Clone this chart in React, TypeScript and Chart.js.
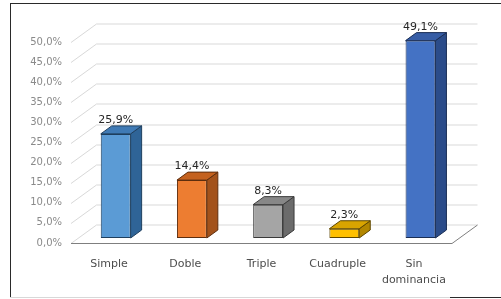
import React, { useEffect, useRef } from "react";
import { Chart, registerables } from "chart.js";

Chart.register(...registerables);

const categories: (string | string[])[] = ["Simple", "Doble", "Triple", "Cuadruple", ["Sin", "dominancia"]];
const values = [25.9, 14.4, 8.3, 2.3, 49.1];
const frontColors = ["#5B9BD5", "#ED7D31", "#A5A5A5", "#FFC000", "#4472C4"];
const sideColors = ["#2F6497", "#A3521B", "#6B6B6B", "#B38700", "#2B4C8A"];
const topColors = ["#3F7AB5", "#C4611E", "#878787", "#D9A400", "#365DA6"];
const edgeColors = ["#1F3F5E", "#5E2E0E", "#3A3A3A", "#5E4700", "#1A2E55"];
const yMin = 0;
const yMax = 50;
const yStep = 5;

const fmt = (v: number) => v.toFixed(1).replace(".", ",") + "%";

const WALL_DX = 25.5;
const WALL_DY = -18.5;
const BAR_SHIFT_X = 6.6;
const BAR_SHIFT_Y = -5;
const BAR_DX = 11;
const BAR_DY = -8;

const framePlugin = {
  id: "frame",
  beforeDraw(chart: any) {
    const ctx = chart.ctx;
    ctx.save();
    ctx.fillStyle = "#ffffff";
    ctx.fillRect(0, 0, chart.width, chart.height);
    ctx.lineWidth = 1;
    ctx.strokeStyle = "#2a2a2a";
    ctx.beginPath();
    ctx.moveTo(10, 3.5);
    ctx.lineTo(chart.width, 3.5);
    ctx.moveTo(10.5, 3);
    ctx.lineTo(10.5, 297);
    ctx.stroke();
    ctx.strokeStyle = "#d8d8d8";
    ctx.beginPath();
    ctx.moveTo(10, 297.5);
    ctx.lineTo(450, 297.5);
    ctx.stroke();
    ctx.strokeStyle = "#2a2a2a";
    ctx.beginPath();
    ctx.moveTo(450, 297.5);
    ctx.lineTo(chart.width, 297.5);
    ctx.stroke();
    ctx.restore();
  },
};

const wallPlugin = {
  id: "wall3d",
  beforeDatasetsDraw(chart: any) {
    const ctx = chart.ctx;
    const { left, right, bottom } = chart.chartArea;
    const y = chart.scales.y;
    ctx.save();
    ctx.lineWidth = 1;
    ctx.strokeStyle = "#d9d9d9";
    y.ticks.forEach((t: any) => {
      const py = Math.round(y.getPixelForValue(t.value)) + 0.5;
      ctx.beginPath();
      ctx.moveTo(left, py);
      ctx.lineTo(left + WALL_DX, py + WALL_DY);
      ctx.lineTo(right + WALL_DX, py + WALL_DY);
      ctx.stroke();
    });
    const fy = Math.round(bottom) + 0.5;
    ctx.strokeStyle = "#7f7f7f";
    ctx.beginPath();
    ctx.moveTo(left, fy);
    ctx.lineTo(right, fy);
    ctx.lineTo(right + WALL_DX, fy + WALL_DY);
    ctx.stroke();
    ctx.restore();
    ctx.save();
    ctx.translate(BAR_SHIFT_X, BAR_SHIFT_Y);
  },
  afterDatasetsDraw(chart: any) {
    const ctx = chart.ctx;
    const meta = chart.getDatasetMeta(0);
    meta.data.forEach((el: any, i: number) => {
      const p = el.getProps(["x", "y", "base", "width"], true);
      const l = p.x - p.width / 2;
      const r = p.x + p.width / 2;
      const t = p.y;
      const b = p.base;
      ctx.lineWidth = 1;
      ctx.strokeStyle = edgeColors[i];
      ctx.fillStyle = sideColors[i];
      ctx.beginPath();
      ctx.moveTo(r, t);
      ctx.lineTo(r + BAR_DX, t + BAR_DY);
      ctx.lineTo(r + BAR_DX, b + BAR_DY);
      ctx.lineTo(r, b);
      ctx.closePath();
      ctx.fill();
      ctx.stroke();
      ctx.fillStyle = topColors[i];
      ctx.beginPath();
      ctx.moveTo(l, t);
      ctx.lineTo(l + BAR_DX, t + BAR_DY);
      ctx.lineTo(r + BAR_DX, t + BAR_DY);
      ctx.lineTo(r, t);
      ctx.closePath();
      ctx.fill();
      ctx.stroke();
      ctx.fillStyle = "#262626";
      ctx.font = "11px 'DejaVu Sans'";
      ctx.textAlign = "center";
      ctx.textBaseline = "bottom";
      ctx.fillText(fmt(values[i]), p.x, t - 8);
    });
    ctx.restore();
  },
};

export default function App() {
  const ref = useRef<HTMLCanvasElement>(null);
  useEffect(() => {
    document.body.style.margin = "0";
    const chart = new Chart(ref.current as HTMLCanvasElement, {
      type: "bar",
      data: {
        labels: categories as any,
        datasets: [
          {
            data: values,
            backgroundColor: frontColors,
            borderColor: edgeColors,
            borderWidth: 1,
            borderSkipped: false,
            categoryPercentage: 0.8,
            barPercentage: 0.49,
            clip: false as any,
          },
        ],
      },
      options: {
        responsive: false,
        animation: false,
        layout: { padding: { top: 42, right: 49, left: 0, bottom: 0 } },
        plugins: { legend: { display: false }, tooltip: { enabled: false } },
        scales: {
          x: {
            grid: { display: false, drawTicks: false },
            border: { display: false },
            ticks: {
              font: { family: "'DejaVu Sans'", size: 11, lineHeight: 1.45 },
              color: "#4d4d4d",
              padding: 13,
              maxRotation: 0,
              autoSkip: false,
            },
            afterFit(scale: any) {
              scale.height = 56;
            },
          },
          y: {
            min: yMin,
            max: yMax,
            grid: { display: false, drawTicks: false },
            border: { display: false },
            ticks: {
              stepSize: yStep,
              autoSkip: false,
              padding: 9,
              font: { family: "'DejaVu Sans'", size: 10 },
              color: "#8a8a8a",
              callback: (v: any) => fmt(Number(v)),
            },
            afterFit(scale: any) {
              scale.width = 71;
            },
          },
        },
      },
      plugins: [framePlugin, wallPlugin],
    });
    return () => chart.destroy();
  }, []);
  return (
    <div style={{ width: 501, height: 299 }}>
      <canvas ref={ref} width={501} height={299} style={{ display: "block" }} />
    </div>
  );
}
